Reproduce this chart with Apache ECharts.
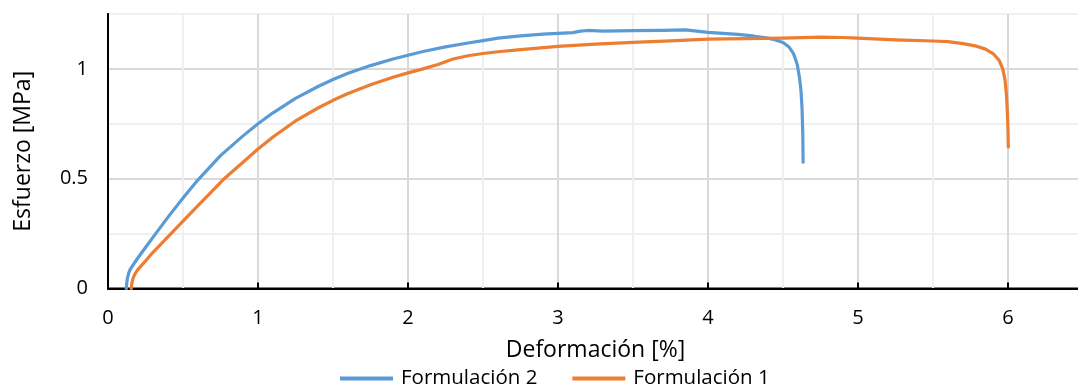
<!DOCTYPE html>
<html>
<head>
<meta charset="utf-8">
<script src="https://cdn.jsdelivr.net/npm/echarts@6/dist/echarts.min.js"></script>
<style>html,body{margin:0;padding:0;background:#fff;}#c{width:1078px;height:388px;}</style>
</head>
<body>
<div id="c"></div>
<script>
const seriesNames = ['Formulación 2', 'Formulación 1'];
const blueX = [0.122,0.125,0.13,0.138,0.147,0.175,0.2,0.25,0.318,0.4,0.5,0.6,0.75,0.9,1.0,1.1,1.25,1.4,1.5,1.6,1.75,1.9,2.0,2.1,2.25,2.4,2.5,2.6,2.75,2.9,3.0,3.1,3.15,3.2,3.3,3.5,3.7,3.85,4.0,4.1,4.2,4.3,4.4,4.45,4.5,4.54,4.57,4.595,4.61,4.62,4.627,4.632,4.634];
const blueY = [0,0.025,0.048,0.07,0.086,0.115,0.14,0.187,0.25,0.325,0.412,0.495,0.605,0.695,0.75,0.8,0.866,0.92,0.952,0.98,1.015,1.045,1.062,1.079,1.1,1.118,1.129,1.14,1.15,1.158,1.162,1.165,1.172,1.175,1.172,1.174,1.175,1.178,1.166,1.162,1.157,1.15,1.14,1.132,1.12,1.1,1.07,1.02,0.96,0.9,0.82,0.7,0.575];
const orangeX = [0.155,0.158,0.164,0.173,0.185,0.2,0.25,0.3,0.42,0.5,0.6,0.767,0.9,1.0,1.1,1.25,1.4,1.5,1.6,1.75,1.9,2.0,2.1,2.2,2.3,2.4,2.5,2.6,2.75,3.0,3.25,3.5,3.75,4.0,4.25,4.5,4.75,4.9,5.0,5.25,5.5,5.6,5.7,5.78,5.85,5.9,5.94,5.965,5.98,5.99,5.996,6.0,6.002];
const orangeY = [0,0.02,0.04,0.057,0.072,0.087,0.125,0.165,0.25,0.307,0.377,0.495,0.575,0.635,0.69,0.763,0.822,0.857,0.888,0.928,0.962,0.982,1.0,1.02,1.045,1.06,1.07,1.078,1.088,1.103,1.113,1.121,1.128,1.136,1.138,1.14,1.145,1.143,1.14,1.132,1.127,1.124,1.115,1.105,1.09,1.07,1.04,1.0,0.95,0.88,0.8,0.72,0.645];
const xTicks = [0,1,2,3,4,5,6];
const yTicks = [0,0.5,1];

const FONT = 'Open Sans';
const zip = (xs, ys) => xs.map((x, i) => [x, ys[i]]);
const chart = echarts.init(document.getElementById('c'), null, {renderer: 'canvas'});
chart.setOption({
  animation: false,
  textStyle: {fontFamily: FONT},
  grid: {left: 108, top: 14, width: 975, height: 274.5, show: true, borderColor: '#000', borderWidth: 2,
    backgroundColor: 'transparent', containLabel: false, outerBoundsMode: 'none'},
  legend: {
    top: 368, left: 340, padding: 0, icon: 'rect', itemWidth: 53, itemHeight: 4, itemGap: 35,
    textStyle: {fontFamily: FONT, fontSize: 20.5, color: '#000', padding: [0,0,0,3]},
    data: seriesNames
  },
  xAxis: [{
    type: 'value', min: 0, max: 6.5, interval: 0.5,
    name: 'Deformación [%]', nameLocation: 'middle', nameGap: 50,
    nameTextStyle: {fontFamily: FONT, fontSize: 23, color: '#000'},
    axisLine: {show: true, lineStyle: {color: '#000', width: 2}},
    axisTick: {show: false},
    axisLabel: {fontFamily: FONT, fontSize: 20, color: '#000', margin: 20,
      formatter: v => xTicks.includes(v) ? String(v) : ''},
    splitLine: {show: true, lineStyle: {color: ['#d9d9d9', '#f0f0f0'], width: 2}}
  }, {
    type: 'value', min: 0, max: 6.5, interval: 1, position: 'bottom',
    axisLine: {show: false},
    axisTick: {show: true, inside: true, length: 6, lineStyle: {color: '#000', width: 2}},
    axisLabel: {show: false}, splitLine: {show: false}
  }],
  yAxis: {
    type: 'value', min: 0, max: 1.25, interval: 0.25,
    name: 'Esfuerzo [MPa]', nameLocation: 'middle', nameGap: 73, nameRotate: 90,
    nameTextStyle: {fontFamily: FONT, fontSize: 23, color: '#000'},
    axisLine: {show: true, lineStyle: {color: '#000', width: 2}},
    axisTick: {show: false},
    axisLabel: {fontFamily: FONT, fontSize: 20, color: '#000', margin: 20,
      formatter: v => yTicks.includes(v) ? String(v) : ''},
    splitLine: {show: true, lineStyle: {color: ['#d9d9d9', '#f0f0f0'], width: 2}}
  },
  series: [{
    name: seriesNames[0], type: 'line', data: zip(blueX, blueY), showSymbol: false, symbol: 'none',
    lineStyle: {color: '#5B9BD5', width: 3.2, cap: 'round', join: 'round'}, itemStyle: {color: '#5B9BD5'}
  }, {
    name: seriesNames[1], type: 'line', data: zip(orangeX, orangeY), showSymbol: false, symbol: 'none',
    lineStyle: {color: '#ED7D31', width: 3.2, cap: 'round', join: 'round'}, itemStyle: {color: '#ED7D31'}
  }]
});
</script>
</body>
</html>
